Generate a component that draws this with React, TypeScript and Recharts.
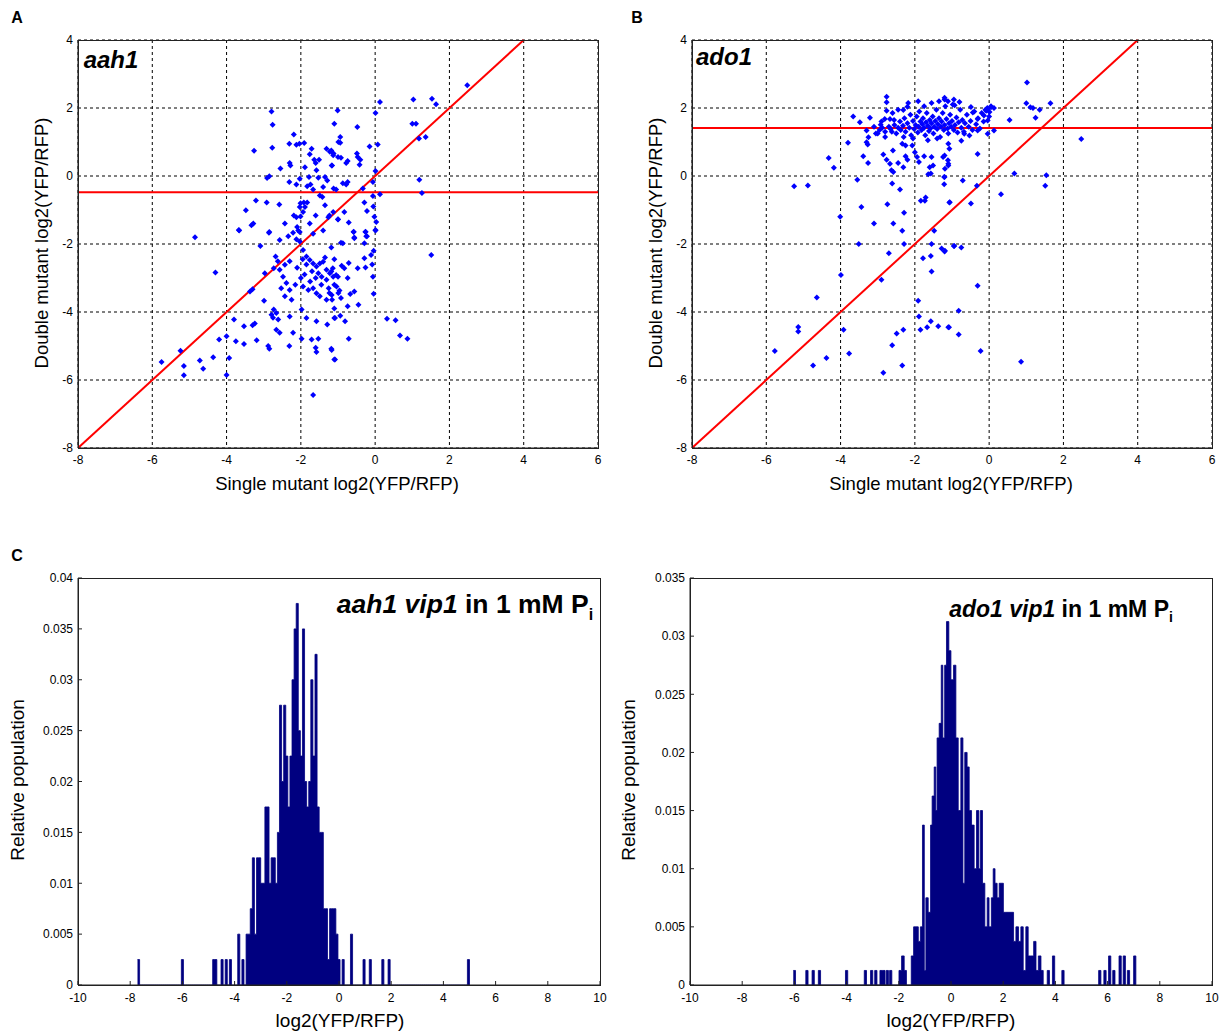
import React from "react";
import {
  Area,
  AreaChart,
  CartesianGrid,
  ReferenceLine,
  Scatter,
  ScatterChart,
  XAxis,
  YAxis,
} from "recharts";

const FONT = "'Liberation Sans', Arial, Helvetica, sans-serif";

// ---- panel A / B: single vs double mutant log2(YFP/RFP) ----
const scatterXTicks = [-8, -6, -4, -2, 0, 2, 4, 6];
const scatterYTicks = [-8, -6, -4, -2, 0, 2, 4];

const aah1Mean = -0.48;
const ado1Mean = 1.41;

// [single, double]
const aah1Points: [number, number][] = [
  [-2.79, 1.9], [-2.76, 1.51], [-2.77, 0.83], [-3.26, 0.74], [-2.19, 1.22], [-2.31, 0.95],
  [-2.12, 0.92], [-2.04, 0.95], [-1.91, 0.97], [-1.71, 0.8], [-1.76, 0.64], [-1.64, 0.48],
  [-1.6, 0.38], [-1.51, 0.48], [-2.55, 0.22], [-2.3, 0.38], [-2.28, 0.31], [-2.85, -0.01],
  [-2.91, -0.06], [-2.31, -0.18], [-2.12, -0.25], [-2.03, -0.08], [-1.89, 0.26], [-1.78, -0.03],
  [-1.83, -0.3], [-1.58, 0.17], [-1.74, -0.25], [-1.67, -0.4], [-1.53, -0.05], [-1.35, -0.03],
  [-1.29, -0.13], [-1.4, -0.32], [-1.49, -0.57], [-1.42, -0.62], [-3.21, -0.72], [-2.92, -0.78],
  [-2.58, -0.84], [-3.48, -1.01], [-2.01, -0.8], [-1.92, -0.78], [-1.83, -0.78], [-2.03, -0.91],
  [-1.89, -0.91], [-1.94, -1.06], [-1.6, -1.16], [-2.19, -1.16], [-2.12, -1.21], [-2.01, -1.19],
  [-3.33, -1.45], [-3.28, -1.4], [-3.66, -1.6], [-2.85, -1.65], [-2.43, -1.4], [-2.1, -1.5],
  [-2.07, -1.6], [-2.03, -1.65], [-1.76, -1.4], [-1.67, -1.7], [-1.4, -1.6], [-1.26, -1.21],
  [-1.13, -1.06], [-1.0, -1.28], [-1.35, -0.86], [-1.17, 0.31], [-1.13, 0.61], [-0.99, 1.0],
  [-1.1, 1.54], [-1.01, 1.93], [-1.31, 0.8], [-1.22, 0.71], [-4.85, -1.8],
  [2.48, 2.67], [0.13, 2.18], [0.01, 1.85], [1.03, 2.25], [1.53, 2.27], [1.64, 2.11],
  [1.0, 1.54], [1.1, 1.54], [1.18, 1.1], [1.36, 1.15], [0.07, 0.93], [-0.15, 0.87],
  [-0.48, 1.44], [-0.94, 1.15], [-0.94, 0.98], [-1.18, 0.75], [-1.12, 0.66], [-1.0, 0.56],
  [-0.92, 0.54], [-1.16, 0.31], [-0.78, 0.38], [-0.74, 0.44], [-0.49, 0.66], [-0.47, 0.56],
  [-0.4, 0.48], [-0.42, 0.33], [0.01, 0.15], [-0.06, -0.18], [-0.33, -0.37], [-0.87, -0.21],
  [-0.78, -0.25], [-0.74, -0.18], [-1.12, -0.37], [-1.05, -0.4], [1.19, -0.11], [1.26, -0.5],
  [-0.06, -0.59], [0.13, -0.54], [-0.29, -0.78], [-0.22, -1.03], [-0.83, -1.06], [-1.0, -1.27],
  [-0.71, -1.37], [0.03, -1.35], [0.01, -1.6], [-0.58, -1.65], [-0.26, -1.65], [-0.24, -1.77],
  [-0.56, -1.81], [-1.23, -1.16],
  [-4.3, -2.84], [-3.67, -1.59], [-2.86, -1.67], [-3.09, -2.06], [-2.57, -1.88], [-2.34, -1.77],
  [-2.21, -1.67], [-2.12, -1.86], [-2.03, -1.93], [-2.97, -2.86], [-2.68, -2.37], [-2.62, -2.51],
  [-2.73, -2.71], [-2.57, -2.76], [-2.43, -2.61], [-2.3, -2.51], [-2.48, -2.96], [-2.39, -3.15],
  [-2.53, -3.3], [-2.3, -3.35], [-2.43, -3.54], [-2.25, -3.64], [-1.94, -2.18], [-1.85, -2.37],
  [-1.76, -2.47], [-1.67, -2.57], [-1.58, -2.66], [-1.49, -2.57], [-1.4, -2.52], [-1.53, -2.86],
  [-1.44, -2.96], [-1.31, -2.76], [-1.31, -3.05], [-1.22, -2.86], [-1.13, -2.96], [-1.94, -3.25],
  [-1.8, -3.35], [-1.67, -3.3], [-1.58, -3.45], [-1.49, -3.54], [-1.31, -3.64], [-1.17, -3.5],
  [-1.04, -3.25], [-0.99, -3.44], [-2.99, -3.67], [-2.73, -3.93], [-2.79, -4.08], [-2.66, -4.03],
  [-2.75, -4.17], [-2.61, -4.22], [-2.66, -4.52], [-2.57, -4.61], [-2.3, -4.13], [-1.98, -3.93],
  [-1.85, -4.18], [-1.58, -4.27], [-1.29, -4.37], [-1.08, -4.18], [-2.21, -4.61], [-1.98, -4.79],
  [-1.71, -4.81], [-1.53, -4.79], [-2.31, -5.0], [-1.6, -5.05], [-1.58, -5.18], [-1.17, -5.12],
  [-1.08, -5.4], [-2.88, -5.0], [-2.85, -5.08], [-3.19, -4.83], [-3.24, -4.34], [-3.3, -4.39],
  [-3.53, -4.42], [-3.8, -4.22], [-4.0, -4.71], [-3.93, -5.35], [-4.0, -5.85], [-4.2, -4.81],
  [-3.75, -4.86], [-3.53, -4.94], [-4.36, -5.33], [-4.63, -5.67], [-4.72, -5.43], [-5.15, -5.59],
  [-5.15, -5.86], [-5.24, -5.14], [-5.75, -5.47], [-1.67, -6.44], [-3.37, -3.4], [-3.3, -3.33],
  [-1.85, -2.6], [-1.7, -2.8], [-1.9, -2.9], [-1.6, -3.0], [-1.75, -3.1], [-1.45, -3.2],
  [-1.35, -2.4], [-2.1, -2.7], [-2.0, -3.0], [-2.15, -3.2], [-1.25, -3.3], [-1.95, -2.45],
  [-0.58, -1.64], [-0.56, -1.83], [-0.26, -1.64], [-0.22, -1.77], [-0.29, -1.98], [0.01, -1.59],
  [-0.92, -1.96], [-0.87, -1.98], [-1.18, -2.1], [1.51, -2.32], [-0.11, -2.32], [-0.29, -2.42],
  [-0.26, -2.69], [-0.47, -2.71], [-0.71, -2.56], [-0.83, -2.71], [-0.9, -2.64], [-1.1, -2.45],
  [-1.14, -2.71], [-1.18, -2.81], [-0.06, -2.96], [-0.74, -3.0], [-1.05, -2.91], [-1.0, -2.96],
  [-0.96, -3.37], [-1.1, -3.2], [-0.56, -3.4], [-0.67, -3.47], [-0.92, -3.59], [-1.16, -3.64],
  [-1.23, -3.44], [-0.04, -3.46], [-0.45, -3.79], [-0.74, -3.83], [-1.1, -3.9], [-1.1, -4.18],
  [-0.94, -4.11], [-0.81, -4.27], [0.32, -4.2], [0.55, -4.24], [0.67, -4.69], [0.87, -4.79],
  [-0.71, -4.79], [-1.18, -5.08], [-1.1, -5.4], [-0.04, -2.2], [-0.08, -2.6], [-0.02, -1.2],
  [-0.05, -0.9],
];

const ado1Points: [number, number][] = [
  [-2.76, 2.33], [-2.76, 2.17], [-2.76, 1.92], [-1.91, 2.2], [-2.31, 1.94], [-2.2, 2.04],
  [-3.66, 1.75], [-3.48, 1.58], [-3.21, 1.71], [-2.92, 1.51], [-2.81, 1.68], [-2.67, 1.68],
  [-2.56, 1.65], [-3.3, 1.34], [-3.25, 1.14], [-3.3, 0.99], [-3.27, 0.93], [-3.8, 0.98],
  [-3.0, 1.25], [-2.8, 1.15], [-2.62, 1.3], [-3.39, 0.58], [-3.26, 0.38], [-4.32, 0.53],
  [-4.18, 0.24], [-2.85, 0.63], [-2.76, 0.48], [-2.67, 0.36], [-2.63, 0.17], [-2.58, 0.12],
  [-2.45, 0.38], [-2.31, 0.26], [-2.25, 0.58], [-2.2, 0.48], [-2.59, 0.75], [-2.34, 0.95],
  [-2.25, 0.9], [-2.07, 0.9], [-2.0, 0.7], [-1.94, 0.56], [-1.89, 0.41], [-1.75, 0.58],
  [-1.55, 0.56], [-1.51, 0.31], [-1.6, 0.26], [-1.64, 0.05], [-1.57, 0.07], [-1.24, 0.56],
  [-1.19, 0.21], [-1.1, 0.36], [-3.55, -0.11], [-2.61, -0.22], [-2.4, -0.4], [-1.21, -0.03],
  [-1.21, -0.24], [-5.25, -0.3], [-4.88, -0.28], [-3.44, -0.91], [-2.74, -0.83], [-2.29, -1.08],
  [-1.84, -0.73], [-1.73, -0.73], [-1.71, -0.63], [-1.06, -0.77], [-4.01, -1.2], [-3.1, -1.4],
  [-2.58, -1.4], [-2.34, -1.61], [-1.48, -1.61],
  [-2.95, 1.35], [-2.88, 1.42], [-2.8, 1.3], [-2.7, 1.45], [-2.65, 1.38], [-2.55, 1.5],
  [-2.5, 1.25], [-2.45, 1.42], [-2.4, 1.6], [-2.38, 1.35], [-2.32, 1.48], [-2.28, 1.7],
  [-2.25, 1.3], [-2.2, 1.55], [-2.15, 1.42], [-2.12, 1.8], [-2.1, 1.2], [-2.05, 1.62],
  [-2.02, 1.38], [-1.98, 1.5], [-1.95, 1.75], [-1.92, 1.28], [-1.9, 1.45], [-1.88, 1.9],
  [-1.85, 1.6], [-1.82, 1.35], [-1.8, 1.52], [-1.78, 1.7], [-1.75, 1.42], [-1.72, 1.2],
  [-1.7, 1.58], [-1.68, 1.85], [-1.65, 1.48], [-1.62, 1.32], [-1.6, 1.65], [-1.58, 1.4],
  [-1.55, 1.55], [-1.52, 1.75], [-1.5, 1.25], [-1.48, 1.45], [-1.45, 1.62], [-1.42, 1.95],
  [-1.4, 1.38], [-1.38, 1.52], [-1.35, 1.7], [-1.32, 1.15], [-1.3, 1.45], [-1.28, 1.6],
  [-1.25, 1.85], [-1.22, 1.35], [-1.2, 1.5], [-1.18, 2.05], [-1.15, 1.68], [-1.12, 1.4],
  [-1.1, 1.25], [-1.08, 1.55], [-1.05, 1.8], [-1.02, 1.45], [-1.0, 1.62], [-0.98, 2.1],
  [-0.95, 1.35], [-0.92, 1.5], [-0.88, 1.72], [-0.85, 1.28], [-0.82, 1.58], [-0.78, 1.95],
  [-0.75, 1.42], [-0.72, 1.65], [-0.68, 1.3], [-0.65, 1.55], [-0.6, 1.8], [-0.55, 1.45],
  [-0.5, 1.62], [-0.45, 1.35], [-0.4, 1.9], [-0.35, 1.52], [-0.3, 1.7], [-0.25, 1.4],
  [-0.2, 1.85], [-0.15, 1.6], [-0.1, 1.95], [-0.05, 2.0], [0.0, 1.75], [0.05, 2.05],
  [-2.6, 1.85], [-2.45, 1.95], [-2.18, 2.15], [-1.75, 2.05], [-1.55, 2.15], [-1.35, 2.2],
  [-0.95, 2.25], [-1.2, 2.3], [-2.9, 1.6], [-3.1, 1.45], [-3.05, 1.25], [-2.05, 1.1],
  [-1.65, 1.05], [-1.4, 1.1], [-2.3, 1.15],
  [1.02, 2.75], [1.0, 2.14], [1.11, 2.02], [1.18, 2.0], [1.36, 1.95], [1.65, 2.14],
  [1.25, 1.71], [0.55, 1.65], [2.48, 1.09], [-1.2, 2.25], [-1.11, 2.2], [-0.93, 2.08],
  [-0.8, 2.18], [-0.49, 2.03], [-0.44, 1.87], [-0.31, 1.68], [-0.14, 1.78], [-0.08, 1.92],
  [-0.04, 1.97], [0.05, 2.02], [0.13, 2.0], [0.01, 1.88], [-0.04, 1.63], [0.13, 1.34],
  [-0.04, 1.24], [-0.31, 1.34], [-0.53, 1.19], [-0.67, 1.24], [-0.75, 1.04], [-0.31, 0.65],
  [-1.1, 0.95], [-1.07, 0.8], [-1.2, 0.6], [-1.11, 0.46], [-1.1, 0.31], [-1.2, -0.03],
  [-0.71, -0.13], [-0.33, -0.29], [0.68, 0.07], [1.54, 0.02], [1.51, -0.29], [0.32, -0.54],
  [-1.07, -0.78], [-0.49, -0.81],
  [-2.29, -2.0], [-1.55, -2.0], [-3.51, -2.0], [-2.7, -2.27], [-1.78, -2.42], [-1.57, -2.35],
  [-1.28, -2.13], [-1.19, -2.2], [-0.94, -2.06], [-1.55, -2.81], [-3.99, -2.91], [-2.9, -3.05],
  [-4.64, -3.57], [-1.91, -3.67], [-1.89, -4.13], [-5.14, -4.44], [-5.14, -4.57], [-3.92, -4.52],
  [-2.31, -4.52], [-2.49, -4.63], [-1.85, -4.52], [-1.67, -4.45], [-1.57, -4.27], [-1.37, -4.42],
  [-1.08, -4.45], [-2.61, -4.98], [-5.77, -5.15], [-3.77, -5.22], [-4.38, -5.35], [-4.74, -5.57],
  [-2.85, -5.79], [-2.34, -5.57],
  [-1.2, -2.22], [-0.95, -2.06], [-0.75, -2.1], [-0.31, -3.23], [-0.82, -3.96], [-1.1, -4.45],
  [-0.82, -4.66], [-0.23, -5.15], [0.86, -5.46],
];

// ---- panel C: histograms of log2(YFP/RFP) ----
const histXTicks = [-10, -8, -6, -4, -2, 0, 2, 4, 6, 8, 10];
const aahHistYTicks = [0, 0.005, 0.01, 0.015, 0.02, 0.025, 0.03, 0.035, 0.04];
const adoHistYTicks = [0, 0.005, 0.01, 0.015, 0.02, 0.025, 0.03, 0.035];

// aah1 vip1: consecutive bins from -7.68, 0.08 wide, counts out of 400 cells
const aahBinStart = -7.68;
const aahBinWidth = 0.08;
const aahTotal = 400;
const aahCounts = [
  1, 0, 0, 0, 0, 0, 0, 0, 0, 0,
  0, 0, 0, 0, 0, 0, 0, 0, 0, 0,
  0, 1, 0, 0, 0, 0, 0, 0, 0, 0,
  0, 0, 0, 0, 0, 0, 1, 1, 0, 0,
  1, 0, 1, 0, 1, 0, 0, 0, 2, 0,
  1, 0, 2, 2, 3, 5, 2, 5, 5, 4,
  4, 7, 7, 4, 5, 5, 4, 6, 11, 8,
  11, 9, 7, 9, 12, 14, 15, 10, 9, 14,
  8, 7, 8, 12, 9, 13, 7, 6, 6, 3,
  3, 1, 3, 3, 3, 2, 1, 0, 1, 0,
  0, 0, 2, 0, 0, 0, 0, 0, 1, 0,
  0, 1, 0, 0, 0, 0, 0, 1, 0, 0,
  1, 0, 0, 0, 0, 0, 0, 0, 0, 0,
  0, 0, 0, 0, 0, 0, 0, 0, 0, 0,
  0, 0, 0, 0, 0, 0, 0, 0, 0, 0,
  0, 0, 0, 0, 0, 0, 0, 0, 1,
];

// ado1 vip1: [bin centre, count], counts out of 800 cells
const adoBinWidth = 0.086;
const adoTotal = 800;
const adoHist: [number, number][] = [
  [-6.0, 1], [-5.52, 1], [-5.28, 1], [-5.04, 1], [-4.0, 1], [-3.28, 1], [-3.04, 1], [-2.88, 1],
  [-2.68, 1], [-2.57, 1], [-2.44, 1], [-2.31, 1], [-1.95, 1], [-1.85, 2], [-1.75, 1],
  [-1.48, 2], [-1.39, 4], [-1.3, 4], [-1.21, 3], [-1.13, 4],
  [-1.05, 11], [-0.98, 1], [-0.92, 6], [-0.83, 5], [-0.74, 11], [-0.68, 13], [-0.6, 15],
  [-0.54, 12], [-0.49, 17], [-0.41, 18], [-0.33, 22], [-0.27, 17], [-0.2, 22], [-0.13, 25],
  [-0.04, 23], [0.04, 21], [0.14, 22], [0.23, 17], [0.32, 12], [0.42, 17], [0.5, 7],
  [0.57, 16], [0.66, 15], [0.74, 12], [0.83, 11], [0.93, 8], [1.02, 12], [1.11, 8],
  [1.17, 12], [1.25, 7], [1.34, 4], [1.43, 6], [1.5, 4], [1.59, 6], [1.66, 8], [1.73, 7],
  [1.81, 6], [1.89, 7], [1.96, 7], [2.05, 5], [2.14, 5], [2.23, 5], [2.34, 5], [2.44, 3],
  [2.53, 4], [2.63, 3], [2.72, 4], [2.81, 1], [2.91, 4], [3.0, 2], [3.1, 2], [3.21, 3],
  [3.3, 1], [3.39, 2], [3.49, 1], [3.73, 1], [3.93, 2],
  [4.29, 1], [5.7, 1], [5.9, 1], [6.08, 2], [6.24, 1], [6.48, 2], [6.64, 2], [6.8, 1],
  [7.04, 2],
];

const tickStyle = { fontSize: 12, fill: "#000", fontFamily: FONT };
const NAVY = "#000080";

// histogram outline: each bin opens at its left edge; an isolated bin is closed back to 0
function histSteps(centers: number[], values: number[], width: number) {
  const out: { x: number; y: number }[] = [];
  centers.forEach((c, i) => {
    out.push({ x: c - width / 2, y: values[i] });
    const next = centers[i + 1];
    if (next === undefined || next - c > 1.5 * width) out.push({ x: c + width / 2, y: 0 });
  });
  return out;
}

const Diamond = (props: any) => {
  const { cx, cy } = props;
  if (cx == null || cy == null) return null;
  const r = 3;
  return (
    <path
      d={`M${cx},${cy - r}L${cx + r},${cy}L${cx},${cy + r}L${cx - r},${cy}Z`}
      fill="#0000ff"
    />
  );
};

function Box({ left, top, width, height }: { left: number; top: number; width: number; height: number }) {
  return (
    <div
      style={{
        position: "absolute",
        left,
        top,
        width: width + 1,
        height: height + 1,
        boxSizing: "border-box",
        border: "1px solid #222",
        pointerEvents: "none",
      }}
    />
  );
}

function Txt({
  left,
  top,
  size,
  children,
  rotate,
  weight,
  style,
}: {
  left: number;
  top: number;
  size: number;
  children: React.ReactNode;
  rotate?: boolean;
  weight?: number;
  style?: React.CSSProperties;
}) {
  return (
    <div
      style={{
        position: "absolute",
        left,
        top,
        fontFamily: FONT,
        fontSize: size,
        fontWeight: weight ?? 400,
        color: "#000",
        whiteSpace: "nowrap",
        lineHeight: 1,
        transform: rotate ? "translate(-50%, -50%) rotate(-90deg)" : "translate(-50%, -50%)",
        ...style,
      }}
    >
      {children}
    </div>
  );
}

function ScatterPanel({
  left,
  points,
  mean,
}: {
  left: number;
  points: [number, number][];
  mean: number;
}) {
  const data = points.map(([x, y]) => ({ x, y }));
  return (
    <div style={{ position: "absolute", left: left - 50, top: 30 }}>
      <ScatterChart width={580} height={448} margin={{ top: 10, right: 10, bottom: 0, left: 0 }}>
        <CartesianGrid stroke="#000" strokeWidth={1} strokeDasharray="3 3" />
        <XAxis
          type="number"
          dataKey="x"
          domain={[-8, 6]}
          ticks={scatterXTicks}
          interval={0}
          height={30}
          tickSize={0}
          tickMargin={7}
          tick={tickStyle}
          axisLine={{ stroke: "#222" }}
          allowDataOverflow
        />
        <YAxis
          type="number"
          dataKey="y"
          domain={[-8, 4]}
          ticks={scatterYTicks}
          interval={0}
          width={50}
          tickSize={0}
          tickMargin={5}
          tick={tickStyle}
          axisLine={{ stroke: "#222" }}
          allowDataOverflow
        />
        <Scatter data={data} shape={Diamond} isAnimationActive={false} />
        <ReferenceLine y={mean} stroke="#ff0000" strokeWidth={2} />
        <ReferenceLine
          segment={[
            { x: -8, y: -8 },
            { x: 4, y: 4 },
          ]}
          stroke="#ff0000"
          strokeWidth={2}
        />
      </ScatterChart>
    </div>
  );
}

function HistPanel({
  left,
  steps,
  yMax,
  yTicks,
}: {
  left: number;
  steps: { x: number; y: number }[];
  yMax: number;
  yTicks: number[];
}) {
  return (
    <div style={{ position: "absolute", left: left - 55, top: 568 }}>
      <AreaChart width={587} height={447} data={steps} margin={{ top: 10, right: 10, bottom: 0, left: 0 }}>
        <XAxis
          type="number"
          dataKey="x"
          domain={[-10, 10]}
          ticks={histXTicks}
          interval={0}
          height={30}
          tickSize={-4}
          tickMargin={12}
          tick={tickStyle}
          tickLine={{ stroke: "#222" }}
          axisLine={{ stroke: "#222" }}
          allowDataOverflow
        />
        <XAxis
          xAxisId="top"
          orientation="top"
          type="number"
          domain={[-10, 10]}
          ticks={histXTicks}
          interval={0}
          height={0}
          tickSize={-4}
          tick={false}
          tickLine={{ stroke: "#222" }}
          axisLine={false}
          allowDataOverflow
        />
        <YAxis
          type="number"
          domain={[0, yMax]}
          ticks={yTicks}
          interval={0}
          width={55}
          tickSize={-4}
          tickMargin={9}
          tick={tickStyle}
          tickLine={{ stroke: "#222" }}
          axisLine={{ stroke: "#222" }}
          allowDataOverflow
        />
        <YAxis
          yAxisId="right"
          orientation="right"
          type="number"
          domain={[0, yMax]}
          ticks={yTicks}
          interval={0}
          width={0}
          tickSize={-4}
          tick={false}
          tickLine={{ stroke: "#222" }}
          axisLine={false}
          allowDataOverflow
        />
        <Area
          type="stepAfter"
          dataKey="y"
          stroke={NAVY}
          strokeWidth={0.8}
          fill={NAVY}
          fillOpacity={1}
          dot={false}
          activeDot={false}
          isAnimationActive={false}
        />
      </AreaChart>
    </div>
  );
}

export default function App() {
  const aahCenters = aahCounts.map((_, i) => aahBinStart + i * aahBinWidth);
  const aahSteps = histSteps(aahCenters, aahCounts.map((c) => c / aahTotal), aahBinWidth);
  const adoSteps = histSteps(
    adoHist.map(([x]) => x),
    adoHist.map(([, c]) => c / adoTotal),
    adoBinWidth
  );
  return (
    <div style={{ position: "absolute", left: 0, top: 0, width: 1228, height: 1034, background: "#fff" }}>
      <ScatterPanel left={78} points={aah1Points} mean={aah1Mean} />
      <ScatterPanel left={692} points={ado1Points} mean={ado1Mean} />
      <Box left={78} top={40} width={520} height={408} />
      <Box left={692} top={40} width={520} height={408} />

      <HistPanel left={78} steps={aahSteps} yMax={0.04} yTicks={aahHistYTicks} />
      <HistPanel left={690} steps={adoSteps} yMax={0.035} yTicks={adoHistYTicks} />
      <Box left={78} top={578} width={522} height={407} />
      <Box left={690} top={578} width={522} height={407} />

      <Txt left={17} top={18} size={16} weight={700}>A</Txt>
      <Txt left={637} top={18} size={16} weight={700}>B</Txt>
      <Txt left={17} top={556} size={16} weight={700}>C</Txt>

      <Txt left={111} top={60} size={24} weight={700} style={{ fontStyle: "italic" }}>aah1</Txt>
      <Txt left={724} top={57} size={24} weight={700} style={{ fontStyle: "italic" }}>ado1</Txt>

      <Txt left={337} top={484} size={18.5}>Single mutant log2(YFP/RFP)</Txt>
      <Txt left={951} top={484} size={18.5}>Single mutant log2(YFP/RFP)</Txt>
      <Txt left={42} top={243} size={18.5} rotate>Double mutant log2(YFP/RFP)</Txt>
      <Txt left={656} top={243} size={18.5} rotate>Double mutant log2(YFP/RFP)</Txt>

      <Txt left={340} top={1020} size={19}>log2(YFP/RFP)</Txt>
      <Txt left={951} top={1020} size={19}>log2(YFP/RFP)</Txt>
      <Txt left={17} top={780} size={19} rotate>Relative population</Txt>
      <Txt left={628} top={780} size={19} rotate>Relative population</Txt>

      <Txt left={465} top={607} size={26.5} weight={700}>
        <i>aah1 vip1</i> in 1 mM P<sub style={{ fontSize: 16 }}>i</sub>
      </Txt>
      <Txt left={1061} top={611} size={23} weight={700}>
        <i>ado1 vip1</i> in 1 mM P<sub style={{ fontSize: 14 }}>i</sub>
      </Txt>
    </div>
  );
}
